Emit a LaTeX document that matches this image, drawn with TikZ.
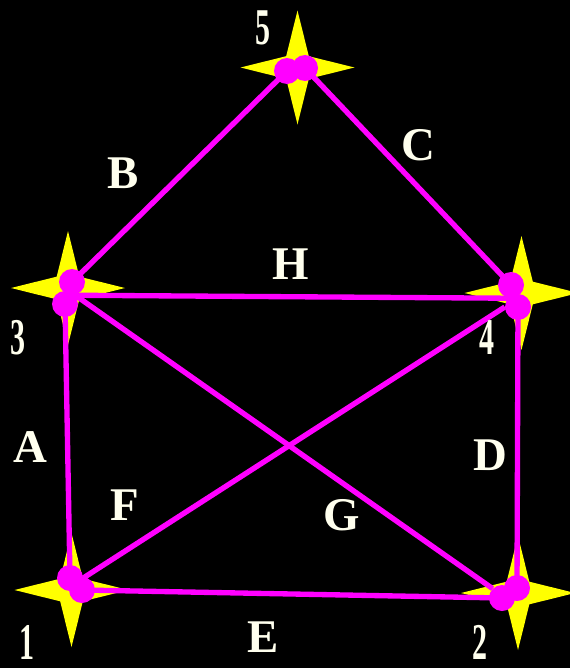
\documentclass[tikz,border=0pt]{standalone}
\usepackage{fontspec}
\setmainfont{Liberation Serif}
\usepackage{graphicx}
\usepackage{xcolor}
\usetikzlibrary{backgrounds}

\definecolor{starfill}{HTML}{FFFF00}
\definecolor{edgecol}{HTML}{FF00FF}
\definecolor{labelcol}{HTML}{FFFFEE}
\newcommand{\thindigit}[1]{\scalebox{0.64}[1.1]{#1}}

\begin{document}
\begin{tikzpicture}[
    x=0.03cm, y=-0.03cm,
    vtx/.style={circle, fill=edgecol, inner sep=0pt, minimum size=0.78cm},
    edge/.style={draw=edgecol, line width=0.16cm},
    lbl/.style={text=labelcol, inner sep=0pt, font=\fontsize{40}{40}\selectfont\bfseries},
    sparkle/.pic={\fill[starfill] (0:57) -- (45:16) -- (90:57) -- (135:16) -- (180:57) -- (225:16) -- (270:57) -- (315:16) -- cycle;},
]
\useasboundingbox (0,0) rectangle (570,668);

% Vertex dots
\node[vtx] (d5a) at (287,71) {};
\node[vtx] (d5b) at (305,68) {};
\node[vtx] (d3a) at (72,282) {};
\node[vtx] (d3b) at (65,304) {};
\node[vtx] (d4a) at (511,285) {};
\node[vtx] (d4b) at (518,307) {};
\node[vtx] (d1a) at (70,578) {};
\node[vtx] (d1b) at (82,590) {};
\node[vtx] (d2a) at (517,588) {};
\node[vtx] (d2b) at (502,598) {};

\begin{scope}[on background layer]
\fill[black] (0,0) rectangle (570,668);

% Stars
\pic at (297.5,67.5) {sparkle};
\pic at (68,288) {sparkle};
\pic at (521.5,293) {sparkle};
\pic at (71.5,590) {sparkle};
\pic at (518,593) {sparkle};

% Edges
\draw[edge] (d5a.center) -- (d3a.center); % B
\draw[edge] (d5b.center) -- (d4a.center); % C
\draw[edge] (d3a.south) -- (d4a.south);   % H
\draw[edge] (d3b.center) -- (d1a.center); % A
\draw[edge] (d4b.center) -- (d2a.center); % D
\draw[edge] (d1b.center) -- (d2b.center); % E
\draw[edge] (d1a.east) -- (d4b.west);     % F
\draw[edge] (d3b.north east) -- (d2b.north west); % G
\end{scope}

% Vertex numbers
\node[lbl] (n5) at (263,28) {\thindigit{5}};
\node[lbl] (n3) at (18,338) {\thindigit{3}};
\node[lbl] (n4) at (487,338) {\thindigit{4}};
\node[lbl] (n1) at (27,642) {\thindigit{1}};
\node[lbl] (n2) at (480,642) {\thindigit{2}};

% Edge letters
\node[lbl] (la) at (30,447) {A};
\node[lbl] (lb) at (123,173) {B};
\node[lbl] (lc) at (418,145) {C};
\node[lbl] (ld) at (490,455) {D};
\node[lbl] (le) at (263,637) {E};
\node[lbl] (lf) at (125,505) {F};
\node[lbl] (lg) at (342,515) {G};
\node[lbl] (lh) at (291,264) {H};

\end{tikzpicture}
\end{document}
